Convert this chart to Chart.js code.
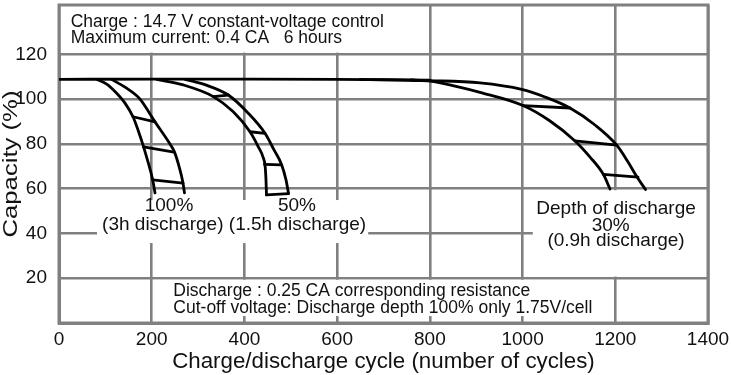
<!DOCTYPE html>
<html><head><meta charset="utf-8">
<script src="https://cdn.jsdelivr.net/npm/chart.js@4.4.1/dist/chart.umd.min.js"></script>
<style>html,body{margin:0;padding:0;background:#fff;}</style>
</head><body>
<canvas id="c" width="731" height="375"></canvas>
<script>
// ---- axis ticks ----
const xTicks = [0, 200, 400, 600, 800, 1000, 1200, 1400];
const yTicks = [20, 40, 60, 80, 100, 120];

// ---- common initial capacity line ----
const baseCycles   = [0, 200, 400, 600, 800];
const baseCapacity = [108.8, 108.9, 108.9, 108.8, 108.4];

// ---- depth of discharge 100 % (3h) ----
const d100InnerCycles   = [81.3, 102.9, 124.5, 142.4, 159.6, 170.4, 180.6, 192.0, 202.1, 207.1];
const d100InnerCapacity = [108.8, 106.7, 102.6, 98.2, 92.1, 86.2, 79.9, 71.9, 63.9, 58.1];
const d100OuterCycles   = [113.3, 142.4, 174.7, 207.1, 239.4, 249.2, 259.9, 267.5, 270.7];
const d100OuterCapacity = [108.8, 105.3, 100.0, 89.8, 79.9, 76.3, 69.2, 62.5, 58.1];
const d100RungFromCycles = [159.6, 182.3, 202.1];
const d100RungFromCap    = [92.1, 78.6, 63.9];
const d100RungToCycles   = [207.1, 248.1, 267.5];
const d100RungToCap      = [89.8, 76.3, 62.5];

// ---- depth of discharge 50 % (1.5h) ----
const d50InnerCycles   = [210.8, 268.1, 332.9, 375.4, 412.0, 429.9, 440.1, 444.8, 446.5, 447.6];
const d50InnerCapacity = [108.8, 106.3, 101.1, 94.4, 85.4, 78.7, 74.1, 69.7, 63.9, 57.2];
const d50OuterCycles   = [271.8, 319.3, 365.2, 407.7, 444.4, 463.8, 480.4, 489.7, 495.1];
const d50OuterCapacity = [108.8, 106.1, 101.8, 93.8, 84.7, 77.3, 70.6, 63.9, 57.8];
const d50RungFromCycles = [332.9, 412.0, 443.3, 447.6];
const d50RungFromCap    = [101.1, 85.4, 70.8, 57.2];
const d50RungToCycles   = [365.2, 444.4, 480.4, 495.1];
const d50RungToCap      = [101.8, 84.7, 70.6, 57.8];

// ---- depth of discharge 30 % (0.9h) ----
const d30InnerCycles   = [760.0, 800.3, 854.2, 908.2, 1000.9, 1059.2, 1113.1, 1145.5, 1174.2, 1188.7];
const d30InnerCapacity = [108.5, 108.0, 105.8, 103.0, 97.1, 90.2, 81.3, 74.1, 66.4, 59.8];
const d30OuterCycles   = [649.3, 800.3, 908.2, 998.1, 1048.4, 1102.3, 1156.3, 1203.1, 1227.5, 1246.9, 1265.2];
const d30OuterCapacity = [108.8, 108.2, 107.2, 104.3, 100.9, 96.0, 88.4, 79.4, 71.9, 65.2, 59.6];
const d30RungFromCycles = [1000.9, 1113.1, 1174.2];
const d30RungFromCap    = [97.1, 81.3, 66.4];
const d30RungToCycles   = [1102.3, 1203.1, 1249.0];
const d30RungToCap      = [96.0, 79.4, 65.1];

// ---- texts ----
const xTitle = 'Charge/discharge cycle (number of cycles)';
const yTitle = 'Capacity (%)';
const chargeNote = ['Charge : 14.7 V constant-voltage control', 'Maximum current: 0.4 CA   6 hours'];
const dischargeNote = ['Discharge : 0.25 CA corresponding resistance', 'Cut-off voltage: Discharge depth 100% only 1.75V/cell'];
const label100 = ['100%', '(3h discharge)'];
const label50  = ['50%', '(1.5h discharge)'];
const label30  = ['Depth of discharge', '30%', '(0.9h discharge)'];

const FONT = "'Liberation Sans', Arial, Helvetica, sans-serif";
const INK = '#111111';
const GRID = '#808080';

function pts(xs, ys) { return xs.map((x, i) => ({x: x, y: ys[i]})); }
const datasets = [];
function addLine(xs, ys, smooth) {
  datasets.push({
    data: pts(xs, ys), showLine: true, borderColor: '#000', borderWidth: 2.8,
    pointRadius: 0, fill: false, tension: 0,
    cubicInterpolationMode: smooth ? 'monotone' : 'default',
    borderCapStyle: 'round', borderJoinStyle: 'round'
  });
}
function addRungs(fx, fy, tx, ty) {
  for (let i = 0; i < fx.length; i++) addLine([fx[i], tx[i]], [fy[i], ty[i]], false);
}
addLine(baseCycles, baseCapacity, true);
addLine(d100InnerCycles, d100InnerCapacity, true);
addLine(d100OuterCycles, d100OuterCapacity, true);
addRungs(d100RungFromCycles, d100RungFromCap, d100RungToCycles, d100RungToCap);
addLine(d50InnerCycles, d50InnerCapacity, true);
addLine(d50OuterCycles, d50OuterCapacity, true);
addRungs(d50RungFromCycles, d50RungFromCap, d50RungToCycles, d50RungToCap);
addLine(d30InnerCycles, d30InnerCapacity, true);
addLine(d30OuterCycles, d30OuterCapacity, true);
addRungs(d30RungFromCycles, d30RungFromCap, d30RungToCycles, d30RungToCap);

const notesPlugin = {
  id: 'notes',
  beforeDatasetsDraw(chart) {
    const ctx = chart.ctx, xs = chart.scales.x, ys = chart.scales.y, a = chart.chartArea;
    const X = v => xs.getPixelForValue(v), Y = v => ys.getPixelForValue(v);
    const inset = 1.6;
    ctx.save();
    ctx.fillStyle = '#ffffff';
    const box = (x0, x1, y0, y1) => ctx.fillRect(x0, y0, x1 - x0, y1 - y0);
    // white label backgrounds hiding grid lines
    box(a.left + inset, X(800) - inset, a.top, Y(120) - inset);
    box(X(82), X(667), Y(54.9), Y(35.7));
    box(X(200) + inset, X(1200) - inset, Y(20) + inset, Y(3.1));
    box(X(1022), a.right, Y(60) + inset, Y(20) - inset);
    // frame
    ctx.strokeStyle = GRID; ctx.lineWidth = 3;
    ctx.strokeRect(a.left, a.top, a.right - a.left, a.bottom - a.top);
    // texts
    ctx.fillStyle = INK;
    ctx.textBaseline = 'middle';
    ctx.font = '17.5px ' + FONT;
    ctx.textAlign = 'left';
    ctx.fillText(chargeNote[0], X(25.2), Y(134.4));
    ctx.fillText(chargeNote[1], X(25.2), Y(127.0));
    ctx.fillText(dischargeNote[0], X(246.6), Y(14.0));
    ctx.fillText(dischargeNote[1], X(246.6), Y(6.6));
    ctx.font = '19px ' + FONT;
    ctx.textAlign = 'center';
    ctx.fillText(label100[0], X(237.3), Y(52.2));
    ctx.fillText(label100[1], X(223.9), Y(43.8));
    ctx.fillText(label50[0], X(513.4), Y(52.2));
    ctx.fillText(label50[1], X(514.5), Y(43.8));
    ctx.fillText(label30[0], X(1201.6), Y(50.8));
    ctx.fillText(label30[1], X(1190), Y(43.3));
    ctx.fillText(label30[2], X(1201.6), Y(36.8));
    // y axis title (drawn stretched along its length like the original)
    ctx.save();
    ctx.translate(11.5, (a.top + a.bottom) / 2);
    ctx.rotate(-Math.PI / 2);
    ctx.font = '20px ' + FONT;
    const w = ctx.measureText(yTitle).width;
    ctx.scale(147 / w, 1);
    ctx.fillText(yTitle, 0, 0);
    ctx.restore();
    ctx.restore();
  }
};

new Chart(document.getElementById('c'), {
  type: 'scatter',
  data: { datasets: datasets },
  plugins: [notesPlugin],
  options: {
    responsive: false, animation: false, devicePixelRatio: 1,
    layout: { padding: { top: 5, right: 23, left: 0, bottom: 0 } },
    plugins: { legend: { display: false }, tooltip: { enabled: false } },
    elements: { point: { radius: 0 } },
    scales: {
      x: {
        type: 'linear', min: 0, max: 1400,
        afterBuildTicks: s => { s.ticks = xTicks.map(v => ({ value: v })); },
        afterFit: s => { s.height = 52; s.paddingLeft = 0; s.paddingRight = 0; },
        ticks: { font: { size: 19, family: FONT }, color: INK, padding: 5, maxRotation: 0, autoSkip: false, callback: v => String(v) },
        grid: { color: GRID, lineWidth: 2.6, drawTicks: false },
        border: { color: GRID, width: 3 },
        title: { display: true, text: xTitle, font: { size: 22.3, family: FONT }, color: INK, padding: { top: 0, bottom: 0 } }
      },
      y: {
        type: 'linear', min: 0, max: 142,
        afterBuildTicks: s => { s.ticks = [0].concat(yTicks).map(v => ({ value: v })); },
        afterFit: s => { s.width = 59; s.paddingTop = 0; s.paddingBottom = 0; },
        ticks: { font: { size: 19, family: FONT }, color: INK, padding: 12, callback: v => (v === 0 ? '' : String(v)) },
        grid: { color: GRID, lineWidth: 2.6, drawTicks: false },
        border: { color: GRID, width: 3 },
        title: { display: false, text: yTitle }
      }
    }
  }
});
</script>
</body></html>
